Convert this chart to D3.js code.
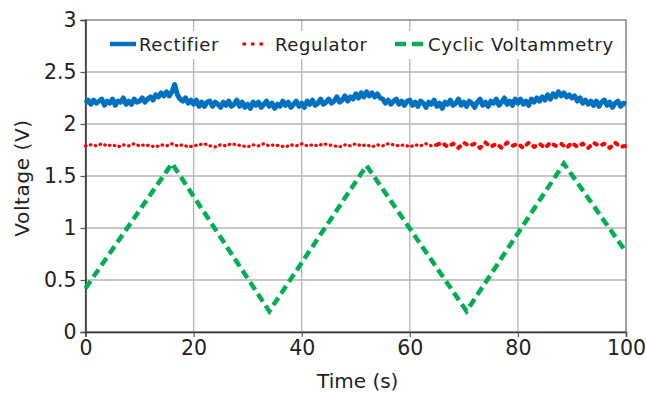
<!DOCTYPE html>
<html>
<head>
<meta charset="utf-8">
<script src="https://cdn.jsdelivr.net/npm/d3@7"></script>
<style>
  body { margin: 0; background: #fff; }
  svg { font-family: "DejaVu Sans", sans-serif; }
</style>
</head>
<body>
<svg id="chart" width="646" height="393"></svg>
<script>
var rectTime = d3.range(0, 100.5, 0.5);
var rectifier = [
  2.20,2.23,2.19,2.23,2.20,2.22,2.24,2.18,2.22,2.20,2.24,2.18,2.22,2.21,2.25,2.19,2.22,2.19,2.24,2.21,
  2.22,2.25,2.21,2.24,2.26,2.23,2.28,2.26,2.30,2.27,2.31,2.27,2.31,2.38,2.28,2.24,2.22,2.25,2.20,2.23,
  2.19,2.23,2.17,2.21,2.17,2.21,2.22,2.17,2.21,2.19,2.16,2.21,2.18,2.22,2.17,2.19,2.23,2.17,2.21,2.16,
  2.19,2.15,2.21,2.18,2.21,2.16,2.19,2.22,2.17,2.20,2.15,2.19,2.17,2.22,2.18,2.21,2.16,2.19,2.22,2.17,
  2.20,2.16,2.22,2.19,2.23,2.18,2.20,2.24,2.19,2.21,2.24,2.20,2.22,2.26,2.21,2.23,2.27,2.22,2.26,2.24,
  2.29,2.25,2.30,2.26,2.31,2.27,2.30,2.26,2.29,2.25,2.24,2.20,2.23,2.19,2.22,2.24,2.19,2.22,2.18,2.22,
  2.23,2.18,2.21,2.17,2.22,2.20,2.16,2.21,2.19,2.23,2.17,2.20,2.15,2.21,2.19,2.23,2.18,2.20,2.24,2.18,
  2.21,2.17,2.22,2.20,2.16,2.21,2.24,2.18,2.21,2.17,2.22,2.20,2.24,2.18,2.21,2.25,2.19,2.22,2.18,2.24,
  2.20,2.24,2.19,2.22,2.18,2.24,2.21,2.25,2.22,2.26,2.23,2.28,2.24,2.29,2.26,2.31,2.27,2.30,2.26,2.28,
  2.25,2.27,2.22,2.25,2.20,2.23,2.19,2.22,2.18,2.22,2.17,2.21,2.23,2.18,2.21,2.16,2.20,2.22,2.17,2.20,
  2.19
];

// regulator output, every 1 s
var regTime = d3.range(0, 101, 1);
var regulator = [
  1.79,1.80,1.79,1.81,1.79,1.80,1.78,1.80,1.79,1.81,1.79,1.80,1.79,1.78,1.80,1.79,1.81,1.79,1.80,1.78,
  1.79,1.80,1.81,1.79,1.78,1.80,1.79,1.81,1.80,1.79,1.78,1.80,1.79,1.81,1.79,1.80,1.79,1.78,1.80,1.79,
  1.81,1.79,1.80,1.79,1.81,1.80,1.79,1.78,1.80,1.79,1.81,1.79,1.80,1.78,1.80,1.79,1.81,1.80,1.79,1.80,
  1.78,1.80,1.79,1.81,1.79,1.80,1.82,1.78,1.81,1.77,1.82,1.79,1.81,1.77,1.82,1.78,1.81,1.77,1.82,1.79,
  1.81,1.77,1.82,1.78,1.81,1.77,1.82,1.79,1.81,1.77,1.82,1.78,1.81,1.77,1.82,1.79,1.81,1.77,1.82,1.78,
  1.79
];

// cyclic voltammetry sweep corners
var cvTime = [0, 16, 34, 52, 70.5, 88.5, 100];
var cvVolt = [0.42, 1.62, 0.2, 1.6, 0.2, 1.62, 0.77];

var seriesNames = ["Rectifier", "Regulator", "Cyclic Voltammetry"];
var seriesColors = ["#0070c0", "#ff0000", "#00b050"];
var xTicks = [0, 20, 40, 60, 80, 100];
var yTicks = [0, 0.5, 1, 1.5, 2, 2.5, 3];

var svg = d3.select("#chart");
var margin = {left: 85.5, right: 20, top: 20, bottom: 61};
var W = 646, H = 393;

var x = d3.scaleLinear().domain([0, 100]).range([margin.left, W - margin.right]);
var y = d3.scaleLinear().domain([0, 3]).range([H - margin.bottom, margin.top]);

// grid
svg.append("g").selectAll("line.vg")
  .data(xTicks.slice(1, -1))
  .enter().append("line")
  .attr("x1", d => x(d)).attr("x2", d => x(d))
  .attr("y1", y(0)).attr("y2", y(3))
  .attr("stroke", "#b4b4b4").attr("stroke-width", 1.3);

svg.append("g").selectAll("line.hg")
  .data(yTicks.slice(1, -1))
  .enter().append("line")
  .attr("x1", x(0)).attr("x2", x(100))
  .attr("y1", d => y(d)).attr("y2", d => y(d))
  .attr("stroke", "#b4b4b4").attr("stroke-width", 1.3);

// plot frame
svg.append("rect")
  .attr("x", x(0)).attr("y", y(3))
  .attr("width", x(100) - x(0)).attr("height", y(0) - y(3))
  .attr("fill", "none").attr("stroke", "#707070").attr("stroke-width", 1.3);

// axes
var xAxis = svg.append("g")
  .attr("transform", "translate(0," + y(0) + ")")
  .call(d3.axisBottom(x).tickValues(xTicks).tickSize(5).tickPadding(3));
var yAxis = svg.append("g")
  .attr("transform", "translate(" + x(0) + ",0)")
  .call(d3.axisLeft(y).tickValues(yTicks).tickSize(5).tickPadding(4).tickFormat(d3.format("")));

[xAxis, yAxis].forEach(function(a) {
  a.select(".domain").attr("stroke", "#333").attr("stroke-width", 1.5);
  a.selectAll(".tick line").attr("stroke", "#555").attr("stroke-width", 1.2);
  a.selectAll("text").attr("fill", "#222").style("font-size", "20.5px")
    .style("font-family", "DejaVu Sans, sans-serif");
});

// lines
var line = d3.line().x(d => x(d[0])).y(d => y(d[1]));

svg.append("path")
  .datum(rectTime.map((t, i) => [t, rectifier[i]]))
  .attr("d", line)
  .attr("fill", "none").attr("stroke", seriesColors[0])
  .attr("stroke-width", 5).attr("stroke-linejoin", "round");

var regPts = regTime.map((t, i) => [t, regulator[i]]);
svg.append("path")
  .datum(regPts.filter(d => d[0] <= 65))
  .attr("d", line)
  .attr("fill", "none").attr("stroke", seriesColors[1])
  .attr("stroke-width", 3.2).attr("stroke-linecap", "round")
  .attr("stroke-dasharray", "0.5,4.5");
svg.append("path")
  .datum(regPts.filter(d => d[0] >= 65))
  .attr("d", line)
  .attr("fill", "none").attr("stroke", seriesColors[1])
  .attr("stroke-width", 4).attr("stroke-linecap", "round")
  .attr("stroke-dasharray", "2.5,6");

svg.append("path")
  .datum(cvTime.map((t, i) => [t, cvVolt[i]]))
  .attr("d", line)
  .attr("fill", "none").attr("stroke", seriesColors[2])
  .attr("stroke-width", 4.5).attr("stroke-dasharray", "9,5");

// legend box
svg.append("rect")
  .attr("x", 100).attr("y", 31).attr("width", 522).attr("height", 28)
  .attr("fill", "#fff");

var legendX = [110, 244, 395];
var legendLen = [26, 24, 30];
var legendDash = [null, "0.5,8", "11,6"];
var legendW = [4.5, 3.5, 4.5];
var lg = svg.append("g");
seriesNames.forEach(function(name, i) {
  lg.append("line")
    .attr("x1", legendX[i]).attr("x2", legendX[i] + legendLen[i])
    .attr("y1", 44).attr("y2", 44)
    .attr("stroke", seriesColors[i]).attr("stroke-width", legendW[i])
    .attr("stroke-linecap", i == 1 ? "round" : "butt")
    .attr("stroke-dasharray", legendDash[i]);
});
var legendTextX = [139, 275, 428];
seriesNames.forEach(function(name, i) {
  lg.append("text")
    .attr("x", legendTextX[i]).attr("y", 51)
    .attr("fill", "#222").style("font-size", "18px")
    .style("letter-spacing", "0.6px")
    .text(name);
});

// axis titles
svg.append("text")
  .attr("x", x(50) + 2).attr("y", 388)
  .attr("text-anchor", "middle").attr("fill", "#222")
  .style("font-size", "20px").text("Time (s)");

svg.append("text")
  .attr("transform", "translate(29," + (y(1.5) + 2) + ") rotate(-90)")
  .attr("text-anchor", "middle").attr("fill", "#222")
  .style("font-size", "20px").style("letter-spacing", "0.6px").text("Voltage (V)");
</script>
</body>
</html>
